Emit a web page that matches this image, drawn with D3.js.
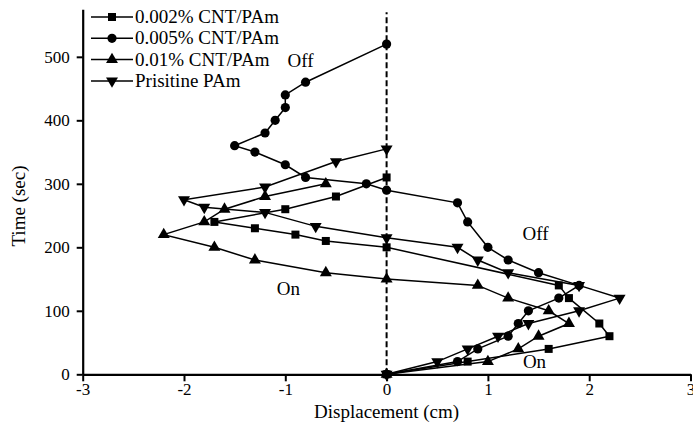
<!DOCTYPE html>
<html>
<head>
<meta charset="utf-8">
<script src="https://cdn.jsdelivr.net/npm/d3@7"></script>
<style>
  body { margin: 0; background: #fff; }
  svg { display: block; font-family: "Liberation Serif", "DejaVu Serif", serif; }
</style>
</head>
<body>
<script>
// series values: [displacement (cm), time (sec)]
const cnt002 = [[0,0],[0.8,20],[1.6,40],[2.2,60],[2.1,80],[1.8,120],[1.7,140],[0,200],[-0.6,210],[-0.9,220],[-1.3,230],[-1.7,240],[-1.0,260],[-0.5,280],[0,310]];
const cnt005 = [[0,0],[0.7,20],[0.9,40],[1.2,60],[1.3,80],[1.4,100],[1.7,120],[1.9,140],[1.5,160],[1.2,180],[1.0,200],[0.8,240],[0.7,270],[0,290],[-0.2,300],[-0.8,310],[-1.0,330],[-1.3,350],[-1.5,360],[-1.2,380],[-1.1,400],[-1.0,420],[-1.0,440],[-0.8,460],[0,520]];
const cnt01 = [[0,0],[1.0,20],[1.3,40],[1.5,60],[1.8,80],[1.6,100],[1.2,120],[0.9,140],[0,150],[-0.6,160],[-1.3,180],[-1.7,200],[-2.2,220],[-1.8,240],[-1.6,260],[-1.2,280],[-0.6,300]];
const pristine = [[0,0],[0.5,20],[0.8,40],[1.1,60],[1.4,80],[1.9,100],[2.3,120],[1.9,140],[1.2,160],[0.9,180],[0.7,200],[0,215],[-0.7,233],[-1.2,255],[-1.8,263],[-2.0,275],[-1.2,295],[-0.5,335],[0,355]];

const seriesNames = ["0.002% CNT/PAm", "0.005% CNT/PAm", "0.01% CNT/PAm", "Prisitine PAm"];
const seriesData = [cnt002, cnt005, cnt01, pristine];
const seriesSymbols = ["square", "circle", "up", "down"];

const xTicks = [-3, -2, -1, 0, 1, 2, 3];
const yTicks = [0, 100, 200, 300, 400, 500];

// On / Off annotations [x, y (baseline), text]
const notes = [[-0.85, 484, "Off"], [1.47, 211, "Off"], [-0.97, 125, "On"], [1.46, 10, "On"]];

const width = 693, height = 436;

const svg = d3.select("body").append("svg")
  .attr("width", width)
  .attr("height", height);

const x = d3.scaleLinear().domain([-3, 3]).range([82.7, 690.5]);
const y = d3.scaleLinear().domain([0, 575]).range([374.3, 9.2]);

// symbol shapes
const tri = d3.symbol().type(d3.symbolTriangle).size(62);
function drawSymbol(g, type) {
  if (type === "square") {
    g.append("rect").attr("x", -4).attr("y", -4).attr("width", 8).attr("height", 8).attr("fill", "#000");
  } else if (type === "circle") {
    g.append("circle").attr("r", 4.6).attr("fill", "#000");
  } else if (type === "up") {
    g.append("path").attr("d", tri()).attr("fill", "#000");
  } else {
    g.append("path").attr("d", tri()).attr("transform", "rotate(180)").attr("fill", "#000");
  }
}

// dashed zero line
svg.append("line")
  .attr("x1", x(0)).attr("x2", x(0))
  .attr("y1", y(0)).attr("y2", y(570))
  .attr("stroke", "#000")
  .attr("stroke-width", 2)
  .attr("stroke-dasharray", "6,3");

// Axes
const xAxis = d3.axisBottom(x).tickValues(xTicks).tickSize(7).tickSizeOuter(0).tickPadding(2)
  .tickFormat(d => d < 0 ? "-" + Math.abs(d) : d);
const yAxis = d3.axisLeft(y).tickValues(yTicks).tickSize(6).tickSizeOuter(0).tickPadding(7);

const gx = svg.append("g")
  .attr("transform", `translate(0, ${y(0)})`)
  .call(xAxis);
const gy = svg.append("g")
  .attr("transform", `translate(${x(-3)}, 0)`)
  .call(yAxis);

[gx, gy].forEach(g => {
  g.attr("font-family", null).attr("font-size", null);
  g.select(".domain").attr("stroke-width", 2.2);
  g.selectAll(".tick line").attr("stroke-width", 2);
  g.selectAll(".tick text")
    .attr("fill", "#000")
    .style("font-family", "'Liberation Serif', serif")
    .style("font-size", "17px");
});

// Axis titles
svg.append("text")
  .attr("x", x(0))
  .attr("y", 418)
  .attr("text-anchor", "middle")
  .style("font-size", "19px")
  .text("Displacement (cm)");

svg.append("text")
  .attr("transform", `translate(25, ${y(265)}) rotate(-90)`)
  .attr("text-anchor", "middle")
  .style("font-size", "19px")
  .text("Time (sec)");

// Lines and markers
const line = d3.line().x(d => x(d[0])).y(d => y(d[1]));

seriesData.forEach((data, i) => {
  svg.append("path")
    .datum(data)
    .attr("fill", "none")
    .attr("stroke", "#000")
    .attr("stroke-width", 1.5)
    .attr("d", line);

  svg.selectAll(".pt" + i)
    .data(data)
    .enter()
    .append("g")
    .attr("class", "pt" + i)
    .attr("transform", d => `translate(${x(d[0])}, ${y(d[1])})`)
    .each(function () { drawSymbol(d3.select(this), seriesSymbols[i]); });
});

// annotations
svg.selectAll(".note")
  .data(notes)
  .enter()
  .append("text")
  .attr("class", "note")
  .attr("x", d => x(d[0]))
  .attr("y", d => y(d[1]))
  .attr("text-anchor", "middle")
  .style("font-size", "19px")
  .text(d => d[2]);

// Legend
const legend = svg.append("g").attr("transform", "translate(91, 17)");
seriesNames.forEach((name, i) => {
  const row = legend.append("g").attr("transform", `translate(0, ${i * 21.3})`);
  row.append("line")
    .attr("x1", 0).attr("x2", 42)
    .attr("y1", 0).attr("y2", 0)
    .attr("stroke", "#000")
    .attr("stroke-width", 1.5);
  const m = row.append("g").attr("transform", "translate(21, 0)");
  drawSymbol(m, seriesSymbols[i]);
  row.append("text")
    .attr("x", 44)
    .attr("y", 6)
    .style("font-size", "19px")
    .text(name);
});
</script>
</body>
</html>
